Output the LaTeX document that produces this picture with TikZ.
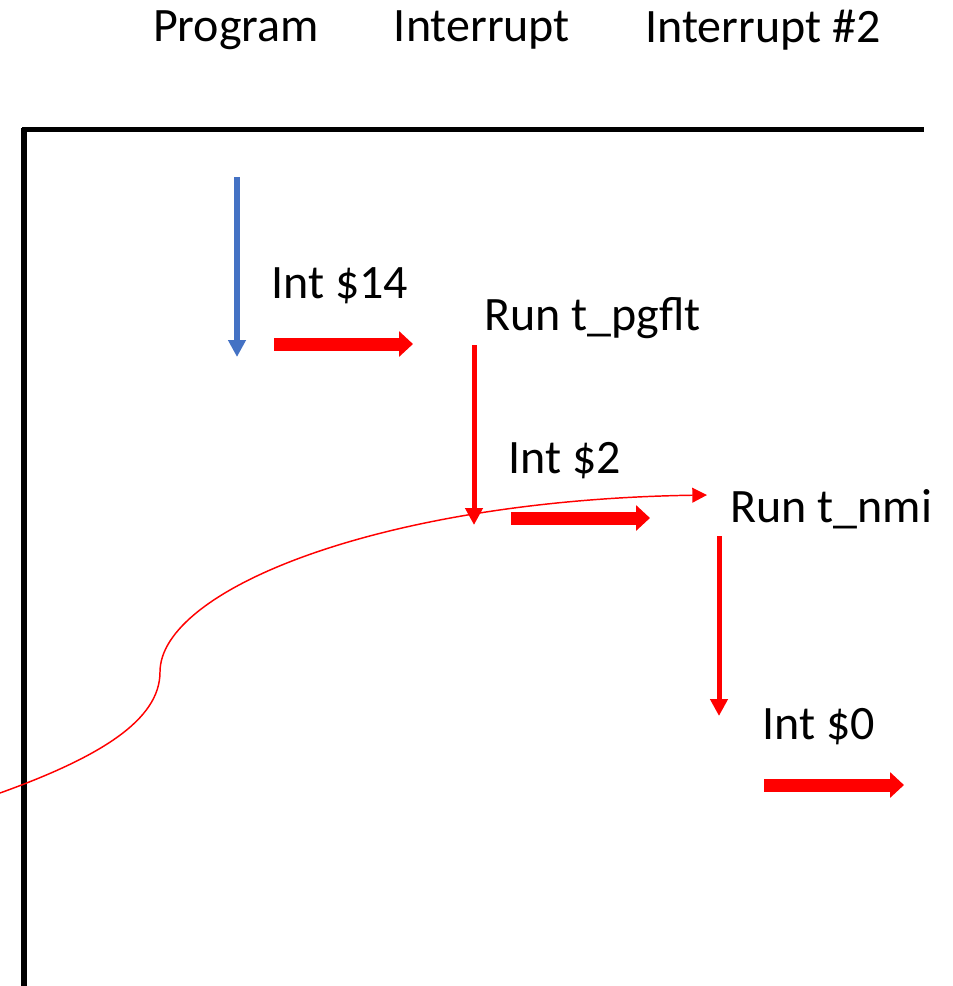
\documentclass[tikz,border=0pt]{standalone}
\usepackage{fontspec}
\setmainfont{Carlito}
\usetikzlibrary{arrows.meta}
\definecolor{progblue}{HTML}{4472C4}
\definecolor{intred}{HTML}{FF0000}
\tikzset{
  lbl/.style={font=\fontsize{36}{43}\selectfont, inner sep=0pt},
  frame/.style={line width=3.9pt, black},
  flowprog/.style={progblue, line width=4.5pt, -{Triangle[width=12.75pt, length=12.75pt]}},
  flowint/.style={intred, line width=3.75pt, -{Triangle[width=12.75pt, length=12.75pt]}},
  jump/.style={intred, line width=9.75pt, -{Triangle[width=18.75pt, length=10.5pt]}},
  trace/.style={intred, line width=1.1pt, -{Triangle[width=11pt, length=11pt]}}
}
\begin{document}
\begin{tikzpicture}[x=0.75pt, y=-0.75pt]
\useasboundingbox (0,0) rectangle (953,986);

% column headings
\node[lbl] (hprog) at (236,30) {Program};
\node[lbl] (hint) at (482,30) {Interrupt};
\node[lbl] (hint2) at (763,30) {Interrupt \#2};

% axes frame: time axis on the left, columns along the top
\coordinate (topleft) at (22,129.5);
\coordinate (topend) at (924,129.5);
\coordinate (axtop) at (24,127.5);
\coordinate (botend) at (24,990);
\draw[frame] (topleft) -- (topend);
\draw[frame] (axtop) -- (botend);

% labels
\node[lbl, anchor=west] (i14) at (271,286) {Int \$14};
\node[lbl, anchor=west] (runpg) at (484,318) {Run t\_pgflt};
\node[lbl, anchor=west] (i2) at (508,461) {Int \$2};
\node[lbl, anchor=west] (runnmi) at (730,509) {Run t\_nmi};
\node[lbl, anchor=west] (i0) at (762,727) {Int \$0};

% program flow
\coordinate (p1) at (237,177);
\coordinate (p2) at (237,357);
\draw[flowprog] (p1) -- (p2);

% interrupt jumps
\coordinate (j1a) at (274,344);
\coordinate (j1b) at (413,344);
\draw[jump] (j1a) -- (j1b);
\coordinate (j2a) at (511,518);
\coordinate (j2b) at (650,518);
\draw[jump] (j2a) -- (j2b);
\coordinate (j3a) at (764,785);
\coordinate (j3b) at (904,785);
\draw[jump] (j3a) -- (j3b);

% handler flows
\coordinate (f1a) at (474,345);
\coordinate (f1b) at (474,525);
\draw[flowint] (f1a) -- (f1b);
\coordinate (f2a) at (719,536);
\coordinate (f2b) at (719,716);
\draw[flowint] (f2a) -- (f2b);

% nested-interrupt trace
\coordinate (c0) at (0,793);
\coordinate (cm) at (160,672);
\coordinate (c1) at (707,495);
\draw[trace] (c0) .. controls (100,757) and (160,720) .. (cm)
  .. controls (160,590) and (380,500) .. (c1);
\end{tikzpicture}
\end{document}
